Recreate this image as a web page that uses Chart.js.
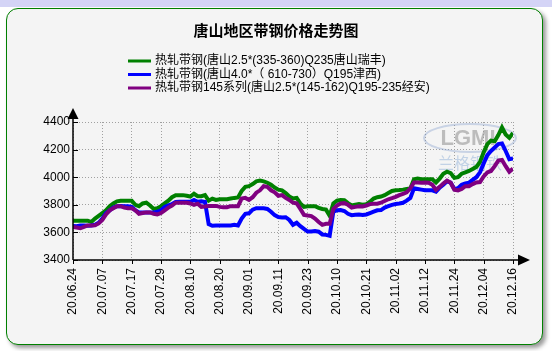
<!DOCTYPE html>
<html>
<head>
<meta charset="utf-8">
<script src="https://cdn.jsdelivr.net/npm/chart.js@4.4.0/dist/chart.umd.min.js"></script>
<style>
    html, body { margin: 0; padding: 0; background: #fff; width: 552px; height: 351px; overflow: hidden; }
    #strip { position: absolute; left: 0; top: 0; width: 552px; height: 7px; background: #d4d4f6; }
    #panel { position: absolute; left: 6px; top: 8px; width: 535px; height: 335px; border: 1px solid #008000;
             border-radius: 12px; background: #f4f4f4; box-shadow: 3px 3px 4px #9a9a9a; }
    #chart { position: absolute; left: 0; top: 0; }
</style>
</head>
<body>
<div id="strip"></div>
<div id="panel"></div>
<canvas id="chart" width="552" height="351"></canvas>
<script>
// --- Data ---
const chartTitle = '唐山地区带钢价格走势图';
const tickLabels = ['20.06.24', '20.07.07', '20.07.17', '20.07.29', '20.08.10', '20.08.20', '20.09.01', '20.09.11',
    '20.09.23', '20.10.10', '20.10.21', '20.11.02', '20.11.12', '20.11.24', '20.12.04', '20.12.16'];
const seriesNames = [
    '热轧带钢(唐山2.5*(335-360)Q235唐山瑞丰)',
    '热轧带钢(唐山4.0*（ 610-730）Q195津西)',
    '热轧带钢145系列(唐山2.5*(145-162)Q195-235经安)'
];
const ruifeng = [
    3685, 3685, 3685, 3685, 3685, 3675, 3700, 3720, 3740,
    3760, 3790, 3810, 3825, 3830, 3830, 3830, 3830,
    3800, 3790, 3810, 3815, 3795, 3770, 3775, 3790,
    3810, 3830, 3855, 3870, 3870, 3870, 3865, 3860,
    3880, 3862, 3862, 3870, 3830, 3845, 3835, 3840,
    3840, 3840, 3845, 3850, 3853, 3900, 3930, 3935,
    3950, 3970, 3975, 3970, 3960, 3945, 3925, 3910,
    3905, 3885, 3860, 3845, 3850, 3810, 3785, 3790,
    3790, 3790, 3778, 3770, 3765, 3720, 3810, 3830,
    3835, 3833, 3812, 3795, 3800, 3805, 3800, 3805,
    3822, 3845, 3855, 3860, 3870, 3885, 3900, 3905,
    3907, 3910, 3915, 3918, 3985, 3990, 3986, 3986,
    3986, 3985, 3962, 3990, 4025, 4040, 4030, 3995,
    4000, 4025, 4035, 4045, 4060, 4075, 4110, 4180,
    4240, 4265, 4260, 4305, 4360, 4310, 4285, 4320
];
const jinxi = [
    3647, 3645, 3650, 3650, 3648, 3650, 3655, 3670, 3700,
    3740, 3760, 3780, 3790, 3792, 3790, 3790, 3785,
    3760, 3745, 3745, 3745, 3745, 3745, 3750, 3760,
    3785, 3795, 3805, 3820, 3822, 3822, 3822, 3822,
    3835, 3822, 3825, 3820, 3660, 3648, 3650, 3650,
    3650, 3650, 3650, 3655, 3650, 3700, 3735, 3738,
    3765, 3775, 3775, 3775, 3770, 3750, 3725, 3712,
    3708, 3710, 3690, 3655, 3670, 3645, 3625, 3606,
    3606, 3610, 3605, 3585, 3582, 3575, 3750, 3760,
    3762, 3755, 3735, 3725, 3728, 3730, 3727, 3730,
    3740, 3750, 3760, 3762, 3780, 3790, 3800, 3806,
    3810, 3815, 3830, 3850, 3920, 3915, 3910, 3905,
    3905, 3905, 3895, 3925, 3945, 3970, 3960, 3915,
    3920, 3945, 3955, 3960, 3980, 4000, 4035, 4100,
    4160, 4190, 4215, 4240, 4245, 4190, 4130, 4135
];
const jingan = [
    3640, 3635, 3630, 3640, 3650, 3650, 3652, 3665, 3690,
    3730, 3760, 3775, 3790, 3790, 3780, 3775, 3775,
    3760, 3735, 3740, 3745, 3745, 3735, 3730, 3740,
    3760, 3780, 3795, 3815, 3815, 3815, 3815, 3810,
    3800, 3808, 3785, 3788, 3792, 3792, 3792, 3785,
    3783, 3783, 3790, 3790, 3790, 3845, 3850, 3835,
    3855, 3888, 3905, 3935, 3930, 3905, 3890, 3865,
    3870, 3850, 3835, 3815, 3810, 3770, 3727, 3722,
    3718, 3700, 3675, 3655, 3662, 3662, 3770, 3795,
    3810, 3812, 3800, 3780, 3785, 3790, 3788, 3795,
    3805, 3808, 3808, 3815, 3828, 3840, 3848, 3858,
    3870, 3880, 3890, 3920, 3962, 3962, 3960, 3962,
    3960, 3945, 3908, 3930, 3955, 3975, 3960, 3910,
    3905, 3915, 3935, 3935, 3950, 3962, 3965, 4005,
    4035, 4045, 4080, 4120, 4125, 4080, 4040, 4062
];
const seriesColors = ['#008000', '#0000ff', '#800080'];

const FONT = "'Liberation Sans', 'Noto Sans CJK SC', sans-serif";
const toPoints = arr => arr.map((v, i) => ({ x: i, y: v }));

// --- Title, legend, axes with arrows, watermark ---
const decor = {
    id: 'decor',
    beforeDatasetsDraw(chart) {
        const ctx = chart.ctx;
        ctx.save();
        ctx.strokeStyle = 'rgba(120,150,200,0.35)';
        ctx.lineWidth = 2;
        ctx.beginPath();
        ctx.ellipse(470, 138, 46, 14, 0, 0, Math.PI * 2);
        ctx.stroke();
        ctx.font = "bold 22px 'Liberation Sans', sans-serif";
        ctx.fillStyle = 'rgba(150,150,150,0.6)';
        ctx.textAlign = 'center';
        ctx.textBaseline = 'middle';
        ctx.fillText('LGMI', 468, 139);
        ctx.font = "16px 'Noto Sans CJK SC', sans-serif";
        ctx.fillStyle = 'rgba(120,160,210,0.4)';
        ctx.fillText('兰格钢铁', 470, 163);
        ctx.restore();
    },
    afterDraw(chart) {
        const ctx = chart.ctx;
        const { left, right, top, bottom } = chart.chartArea;
        const y = chart.scales.y;
        ctx.save();

        ctx.fillStyle = '#000';
        ctx.font = "bold 15px 'Noto Sans CJK SC', sans-serif";
        ctx.textAlign = 'center';
        ctx.textBaseline = 'middle';
        ctx.fillText(chartTitle, 276, 30);

        ctx.font = '12px ' + FONT;
        ctx.textAlign = 'left';
        seriesNames.forEach((name, i) => {
            const ly = 61 + i * 13.5;
            ctx.strokeStyle = seriesColors[i];
            ctx.lineWidth = 3;
            ctx.beginPath();
            ctx.moveTo(128, ly);
            ctx.lineTo(151, ly);
            ctx.stroke();
            ctx.fillStyle = '#000';
            ctx.fillText(name, 155, ly);
        });

        // axes
        ctx.strokeStyle = '#000';
        ctx.lineWidth = 1.5;
        ctx.beginPath();
        ctx.moveTo(left, bottom);
        ctx.lineTo(left, top - 10);
        ctx.moveTo(left, bottom);
        ctx.lineTo(right + 6, bottom);
        ctx.stroke();
        ctx.lineWidth = 1;
        ctx.beginPath();
        y.ticks.forEach(t => {
            const py = Math.round(y.getPixelForValue(t.value)) + 0.5;
            ctx.moveTo(left, py);
            ctx.lineTo(left + 5, py);
        });
        chart.scales.x.ticks.forEach(t => {
            const px = Math.round(chart.scales.x.getPixelForValue(t.value)) + 0.5;
            ctx.moveTo(px, bottom);
            ctx.lineTo(px, bottom + 4);
        });
        ctx.stroke();

        ctx.fillStyle = '#000';
        ctx.beginPath();
        ctx.moveTo(left, top - 14);
        ctx.lineTo(left - 5.5, top - 3);
        ctx.lineTo(left + 5.5, top - 3);
        ctx.closePath();
        ctx.fill();
        ctx.beginPath();
        ctx.moveTo(right + 17, bottom);
        ctx.lineTo(right + 5, bottom - 5.5);
        ctx.lineTo(right + 5, bottom + 5.5);
        ctx.closePath();
        ctx.fill();
        ctx.restore();
    }
};

new Chart(document.getElementById('chart').getContext('2d'), {
    type: 'line',
    data: {
        datasets: [
            { label: seriesNames[0], data: toPoints(ruifeng), borderColor: seriesColors[0], order: 2 },
            { label: seriesNames[1], data: toPoints(jinxi), borderColor: seriesColors[1], order: 1 },
            { label: seriesNames[2], data: toPoints(jingan), borderColor: seriesColors[2], order: 0 }
        ]
    },
    options: {
        responsive: false,
        animation: false,
        datasets: { line: { borderWidth: 4, pointRadius: 0, tension: 0, fill: false } },
        layout: { padding: { top: 122, right: 39, bottom: 0, left: 0 } },
        plugins: { legend: { display: false }, tooltip: { enabled: false } },
        scales: {
            x: {
                type: 'linear', min: 0, max: 120,
                afterFit: s => { s.height = 91; },
                ticks: {
                    stepSize: 8, autoSkip: false, maxRotation: 90, minRotation: 90, padding: 8,
                    color: '#000', font: { family: FONT, size: 12 },
                    callback: v => tickLabels[Math.round(v / 8)]
                },
                grid: { color: '#a0a0a0', drawTicks: false },
                border: { display: false, dash: [1, 2] }
            },
            y: {
                min: 3400, max: 4400,
                afterFit: s => { s.width = 73; },
                ticks: {
                    stepSize: 200, padding: 3, color: '#000', font: { family: FONT, size: 12 },
                    callback: v => String(v)
                },
                grid: { color: '#a0a0a0', drawTicks: false },
                border: { display: false, dash: [1, 2] }
            }
        }
    },
    plugins: [decor]
});
</script>
</body>
</html>
